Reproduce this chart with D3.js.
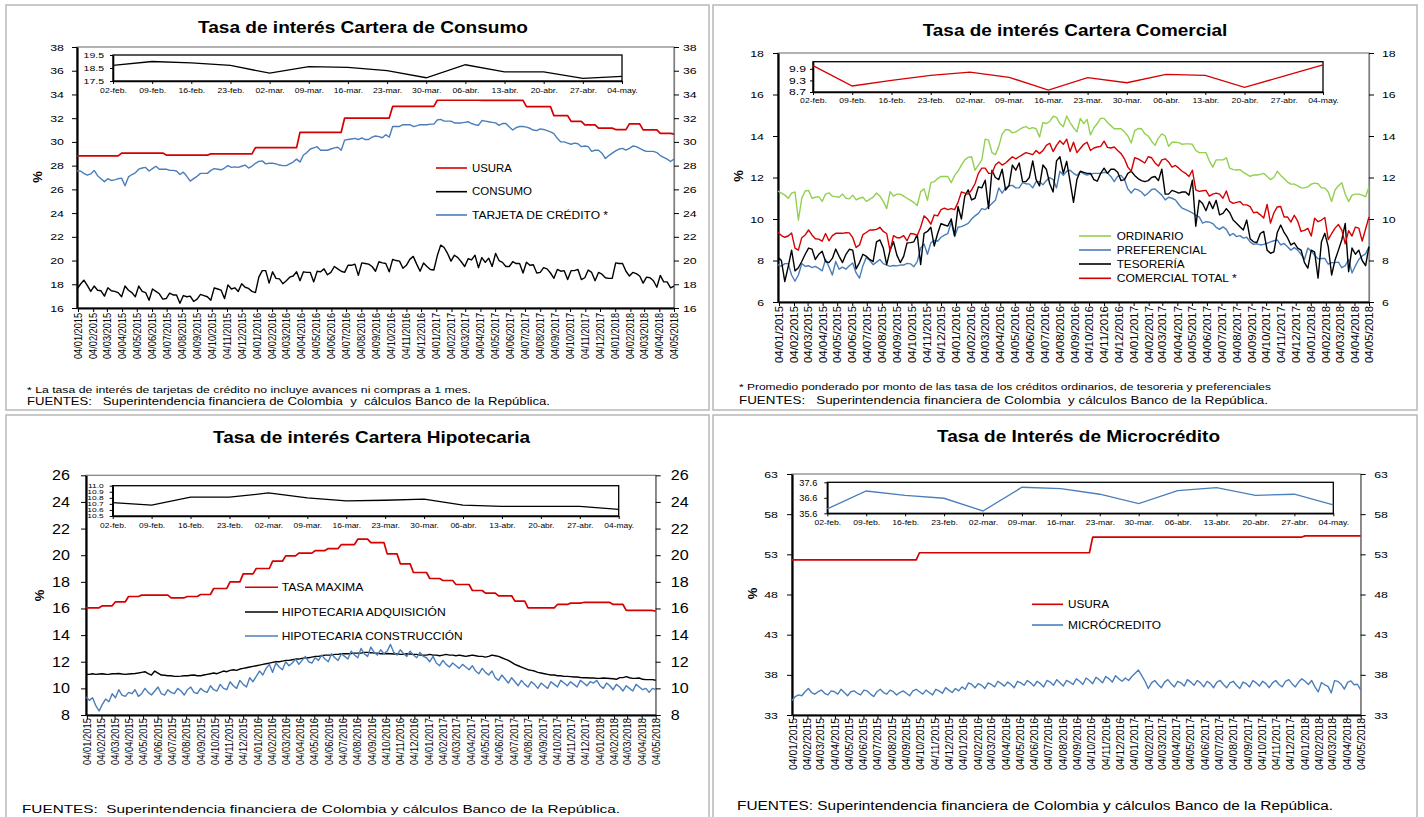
<!DOCTYPE html>
<html>
<head>
<meta charset="utf-8">
<script src="https://cdn.jsdelivr.net/npm/d3@7"></script>
<style>
  body { margin: 0; background: #fff; }
  svg text { font-family: Arial, "Liberation Sans", sans-serif; white-space: pre; }
</style>
</head>
<body>
<svg id="vis" width="1424" height="817"></svg>
<script>
// ---- data: weekly series, 02/01/2015 .. 04/05/2018 (175 weeks) ----
var consumo = [
  17.6,18.0,18.35,17.9,17.4,17.85,17.5,17.45,17.0,17.7,17.45,17.4,17.3,16.95,17.85,17.5,17.3,16.95,17.85,17.4,17.3,16.65,17.6,17.4,17.2,16.75,
  16.8,17.25,17.1,17.1,16.4,17.05,16.95,17.0,16.55,16.75,17.15,17.05,16.95,16.65,17.7,17.6,17.5,16.8,17.95,17.6,17.7,17.4,18.05,17.75,17.65,17.4,
  17.3,18.6,19.15,19.15,18.1,19.05,18.5,18.45,18.05,18.3,18.6,18.7,19.05,18.3,19.05,19.0,19.0,18.2,19.1,19.05,19.3,18.8,19.0,19.5,19.3,19.1,
  19.0,19.6,19.6,19.7,18.75,19.8,19.75,19.7,19.5,19.1,19.9,19.8,19.75,19.05,20.1,20.0,19.95,19.35,19.6,20.1,20.35,19.7,19.1,19.8,19.5,19.25,
  19.2,20.4,21.3,21.1,20.6,19.95,20.45,20.25,19.9,19.5,20.15,20.05,20.45,19.4,20.25,19.85,20.2,19.5,20.6,20.0,19.85,19.5,19.5,19.9,19.75,19.75,
  18.95,19.85,19.6,19.65,18.95,19.0,19.4,19.3,18.95,18.5,19.25,19.1,19.15,18.4,19.15,19.15,19.25,18.4,18.55,19.2,19.0,18.3,19.0,18.85,18.55,18.5,
  18.5,19.8,19.75,19.75,19.1,18.7,19.0,18.9,18.7,18.1,18.6,18.55,18.3,17.75,18.75,18.2,18.2,17.7,17.85
];
var tarjeta = [
  27.55,27.55,27.35,27.2,27.3,27.6,27.15,26.9,26.65,26.9,26.75,26.8,26.9,26.95,26.3,27.05,27.25,27.4,27.7,27.8,27.85,27.55,27.75,27.95,27.7,27.7,
  27.7,27.6,27.6,27.55,27.25,27.45,27.1,26.7,26.9,27.1,27.35,27.35,27.35,27.6,27.75,27.7,27.65,27.8,28.0,27.85,27.9,27.85,27.95,28.05,27.8,27.95,
  28.2,28.35,28.4,28.15,28.2,28.2,28.15,28.05,28.0,28.0,28.15,28.3,28.55,28.3,28.9,29.1,29.4,29.5,29.6,29.3,29.3,29.3,29.4,29.5,29.55,29.3,
  30.15,30.2,30.25,30.3,30.2,30.35,30.2,30.2,30.4,30.5,30.45,30.35,30.6,30.4,31.3,31.3,31.3,31.45,31.45,31.45,31.3,31.35,31.45,31.45,31.45,31.5,
  31.5,31.85,31.9,31.75,31.75,31.75,31.6,31.6,31.6,31.65,31.7,31.55,31.45,31.4,31.8,31.75,31.7,31.65,31.6,31.4,31.55,31.55,31.25,31.0,31.2,31.3,
  31.3,31.25,31.15,31.0,30.95,31.1,31.05,30.95,30.85,30.7,30.3,30.0,30.0,29.9,29.8,29.9,29.85,29.6,29.65,29.6,29.2,29.3,29.3,29.05,28.6,28.85,
  29.05,29.25,29.4,29.45,29.3,29.45,29.65,29.6,29.45,29.3,29.2,29.2,29.2,29.1,28.85,28.7,28.55,28.35,28.55
];
var ordinario = [
  11.35,11.25,11.15,11.0,11.25,11.3,9.95,11.0,11.35,11.38,11.0,11.05,11.08,10.85,11.2,11.26,11.1,11.08,11.05,11.2,11.0,10.97,11.15,10.92,11.0,11.05,
  10.85,10.95,11.05,11.25,11.1,10.85,10.5,11.32,11.1,11.2,11.2,11.1,11.0,10.9,10.8,10.65,11.32,11.45,10.9,11.75,11.8,11.95,12.05,12.05,12.05,11.75,
  12.1,12.3,12.6,12.85,12.97,13.0,12.35,12.6,12.85,13.85,13.8,13.2,13.1,13.5,14.1,14.3,14.3,14.15,14.2,14.3,14.4,14.45,14.35,14.4,14.35,13.95,
  14.65,14.6,14.7,14.95,14.9,14.6,14.45,14.96,14.65,14.4,14.2,14.85,14.6,14.8,14.05,14.4,14.6,14.85,14.85,14.65,14.5,14.35,14.35,14.35,14.2,14.0,
  13.66,14.25,14.36,14.35,14.1,14.0,13.75,13.55,13.9,14.1,14.0,13.5,13.7,13.7,13.68,13.6,13.62,13.62,13.6,13.3,13.2,13.2,13.2,12.8,12.5,12.85,
  12.85,12.85,12.95,12.45,12.38,12.36,12.38,12.25,12.15,12.05,12.12,12.12,12.15,12.2,12.05,11.9,12.0,12.3,12.1,11.95,11.78,11.68,11.68,11.6,11.5,11.5,
  11.55,11.68,11.73,11.7,11.5,11.5,11.3,10.84,11.4,11.6,11.75,11.2,10.84,11.15,11.2,11.2,11.15,11.07,11.55
];
var preferencial = [
  7.8,7.72,7.85,7.85,7.3,7.0,7.3,7.85,7.72,7.75,7.66,7.72,7.62,7.5,8.05,7.7,7.3,7.95,7.58,7.68,7.58,7.75,7.88,7.4,7.15,7.75,
  8.15,8.0,7.8,7.92,8.05,7.85,7.78,7.72,7.76,7.74,7.78,7.78,7.86,7.84,7.7,7.95,8.6,8.8,8.3,8.85,8.97,8.93,9.12,9.22,9.3,9.85,
  9.15,9.6,9.63,9.7,9.79,10.0,10.15,10.27,10.5,10.45,10.6,10.75,10.9,11.5,11.25,11.5,11.6,11.62,11.5,11.5,11.75,11.7,11.68,11.5,11.8,11.8,
  11.65,11.85,12.0,11.9,11.5,12.3,12.1,12.3,12.35,12.2,12.1,12.28,12.18,12.12,12.17,12.2,12.2,12.2,12.25,12.22,12.05,11.8,12.05,12.1,11.9,11.45,
  11.25,11.45,11.4,11.3,11.12,11.25,11.42,11.45,11.3,11.15,10.92,11.05,11.0,10.92,10.7,10.52,10.45,10.38,10.3,10.17,10.1,9.8,9.87,9.85,9.78,9.6,
  9.5,9.62,9.5,9.2,9.3,9.15,9.2,9.08,9.12,8.9,8.78,8.8,8.75,8.78,8.83,8.9,8.95,8.99,8.75,8.82,8.66,8.5,8.62,8.5,8.3,8.05,
  8.6,8.45,8.25,8.08,8.1,8.1,7.82,7.9,7.9,7.92,7.65,7.75,8.05,7.4,7.75,8.05,8.22,8.32,8.67
];
var tesoreria = [
  8.15,8.0,6.98,7.7,8.5,7.5,7.65,7.95,8.3,8.6,8.55,8.05,8.3,8.45,7.95,7.9,8.1,8.55,8.2,7.9,8.3,8.54,8.5,7.6,7.9,8.3,
  8.2,8.05,7.95,8.9,8.99,8.6,7.8,8.5,8.91,8.26,7.9,8.2,8.85,8.86,8.9,9.25,7.8,9.31,9.4,9.6,8.7,9.3,9.78,9.71,9.66,10.0,
  9.2,10.6,10.0,11.1,11.4,10.92,11.0,11.55,11.5,11.87,10.5,12.35,12.0,11.9,12.4,11.4,11.6,12.6,12.35,12.7,11.8,11.8,12.0,12.8,11.9,11.6,
  12.6,12.4,11.7,11.3,12.8,13.0,12.2,12.78,11.8,10.8,11.9,12.3,12.25,12.2,12.2,11.9,11.82,12.2,12.45,12.2,12.4,12.4,12.25,11.85,11.9,12.2,
  12.3,12.1,11.95,11.85,11.8,11.85,12.0,12.05,11.85,12.4,11.2,11.2,11.38,11.32,11.25,11.3,11.3,11.15,11.87,9.65,10.9,10.75,10.4,10.84,10.5,10.9,
  10.2,10.27,10.5,10.3,9.95,9.8,9.63,9.47,9.95,9.05,8.9,8.87,9.3,9.4,8.5,8.35,8.42,9.35,9.71,9.35,9.1,8.75,8.85,8.6,8.5,7.9,
  7.63,8.5,8.4,7.15,8.9,9.31,8.67,7.3,8.02,8.5,9.0,9.79,7.46,8.6,8.3,8.5,8.0,7.75,8.67
];
var comercialTotal = [
  9.35,9.2,9.12,9.18,9.33,8.6,8.5,9.1,9.23,9.47,9.23,9.05,9.03,8.93,9.3,8.95,9.2,9.31,9.31,9.31,9.34,9.33,9.1,8.63,8.75,9.25,
  9.35,9.47,9.47,9.5,9.6,9.4,9.3,8.46,9.2,9.1,9.1,9.2,8.95,9.3,9.28,9.2,9.6,10.15,10.0,9.75,10.2,10.15,10.45,10.52,10.45,10.5,
  10.45,10.8,11.3,11.25,11.2,11.4,11.7,12.2,12.45,12.45,12.2,12.2,12.6,12.75,12.6,12.7,12.85,13.0,12.9,13.0,13.1,13.2,13.15,13.1,13.3,13.15,
  13.3,13.55,13.65,13.25,13.55,13.77,13.6,13.85,13.25,13.7,13.2,13.4,13.6,13.7,13.3,13.42,13.47,13.5,13.75,13.45,13.42,13.47,13.3,13.15,12.9,12.5,
  12.3,12.95,12.9,12.8,12.7,13.0,12.95,12.7,12.55,12.85,12.9,12.75,12.5,12.58,12.45,12.3,12.2,12.05,12.35,11.4,11.33,11.36,11.38,11.1,11.2,11.25,
  11.2,11.0,11.35,10.85,10.75,10.8,10.84,10.68,10.68,10.6,10.3,10.33,10.2,10.05,10.7,9.8,10.3,10.58,10.6,10.1,10.1,9.85,10.18,9.9,9.4,9.45,
  9.55,9.18,10.04,9.87,9.95,10.07,9.01,9.3,9.56,9.73,9.46,8.8,9.44,9.18,9.61,9.56,8.94,9.52,10.1
];
var hipAdquisicion = [
  11.05,11.05,11.1,11.05,11.08,11.1,11.06,11.05,11.1,11.1,11.12,11.08,11.05,11.08,11.1,11.12,11.15,11.2,11.25,11.1,11.0,11.3,11.15,11.0,10.98,10.95,
  10.95,10.9,10.9,10.92,10.95,10.95,10.98,11.0,10.95,10.95,11.0,11.05,11.1,11.15,11.1,11.2,11.3,11.25,11.35,11.4,11.35,11.45,11.5,11.55,11.6,11.65,
  11.7,11.75,11.8,11.85,11.9,11.95,12.0,12.0,12.05,12.1,12.1,12.15,12.2,12.2,12.25,12.3,12.3,12.35,12.4,12.4,12.45,12.5,12.5,12.5,12.55,12.55,
  12.6,12.6,12.6,12.62,12.65,12.65,12.65,12.7,12.7,12.68,12.65,12.65,12.6,12.6,12.62,12.6,12.58,12.6,12.55,12.55,12.6,12.58,12.55,12.55,12.5,12.5,
  12.5,12.55,12.5,12.5,12.45,12.5,12.55,12.5,12.5,12.45,12.5,12.45,12.4,12.45,12.5,12.45,12.4,12.4,12.35,12.4,12.5,12.45,12.4,12.3,12.2,12.1,
  11.95,11.8,11.7,11.6,11.5,11.4,11.35,11.3,11.2,11.15,11.1,11.05,11.0,11.0,10.95,10.95,10.9,10.9,10.88,10.85,10.85,10.82,10.8,10.8,10.78,10.78,
  10.75,10.75,10.78,10.76,10.74,10.72,10.68,10.81,10.81,10.88,10.8,10.75,10.76,10.78,10.68,10.66,10.66,10.66,10.61
];
var hipConstruccion = [
  9.35,9.1,9.3,8.7,8.3,8.8,9.2,9.0,9.6,9.3,9.9,9.5,9.4,9.7,9.6,9.9,9.4,9.6,10.0,9.7,9.5,9.8,10.1,9.6,9.5,9.9,
  9.7,9.6,10.0,9.8,9.5,9.9,10.1,9.7,9.6,10.0,9.8,9.7,10.2,9.9,9.8,10.3,10.0,9.9,10.5,10.2,10.0,10.6,10.3,10.1,10.8,10.5,
  10.9,11.3,11.0,11.5,11.8,11.2,11.9,11.6,11.4,12.0,11.7,11.9,12.2,11.8,12.1,12.4,12.0,11.9,12.3,12.1,12.5,12.2,12.0,12.6,12.3,12.1,
  12.6,12.4,12.2,12.8,12.5,12.3,13.0,12.6,12.4,13.1,12.7,12.5,12.9,12.6,12.8,13.3,12.7,12.5,12.9,12.6,12.4,12.8,12.5,12.3,12.7,12.4,
  12.3,12.0,12.4,11.9,11.7,12.1,11.8,11.6,11.9,11.7,11.5,11.8,11.6,11.4,11.7,11.3,11.1,11.5,11.2,11.0,11.3,10.8,10.6,11.0,10.7,10.4,
  10.8,10.5,10.2,10.6,10.3,10.1,10.5,10.3,10.0,10.4,10.2,10.0,10.5,10.3,10.1,10.6,10.4,10.2,10.5,10.3,10.1,10.6,10.4,10.2,10.5,10.4,
  10.6,10.2,10.0,10.4,10.2,9.9,10.3,10.1,9.8,10.2,10.0,9.8,10.3,10.1,9.9,10.0,9.7,10.0,9.9
];
var microcredito = [
  34.8,35.3,35.5,35.4,35.9,36.3,35.8,35.6,35.9,36.1,35.7,35.5,36.0,35.9,35.6,36.2,35.8,35.4,35.9,36.0,35.7,35.5,36.1,36.0,35.6,35.3,
  35.9,36.2,35.8,35.6,36.1,35.9,35.5,35.8,36.0,35.7,35.4,36.0,36.2,35.9,35.6,36.1,35.8,35.5,36.2,36.0,35.7,36.4,36.1,35.8,36.3,36.0,
  36.5,36.2,37.0,36.8,36.4,36.9,36.7,36.3,37.0,36.8,36.5,37.2,36.9,36.6,37.1,36.8,36.4,37.2,37.0,36.7,37.3,37.0,36.6,37.2,36.9,36.5,
  37.3,37.1,36.7,37.4,37.0,36.6,37.3,37.1,36.8,37.5,37.2,36.8,37.6,37.3,36.9,37.7,37.4,37.0,37.8,37.5,37.1,37.9,37.5,37.2,37.6,37.3,
  37.8,38.2,38.6,37.9,37.2,36.3,37.0,37.3,36.8,36.4,37.1,37.4,36.9,36.5,37.2,37.0,36.6,37.4,37.1,36.7,37.3,37.0,36.5,37.2,36.9,36.4,
  37.1,37.3,36.8,36.4,37.0,37.2,36.7,36.3,37.1,36.9,36.5,37.3,37.0,36.6,37.2,36.9,36.4,37.0,37.3,36.8,36.5,37.2,37.4,36.9,36.5,37.1,
  37.5,37.2,36.8,37.3,36.5,35.88,37.04,36.76,36.57,35.75,37.28,37.19,36.83,36.22,37.06,37.25,36.76,36.83,36.14
];
// ---- monthly caps, ene-2015 .. may-2018 (41 months) ----
var usuraConsumo = [
  28.82,28.82,28.82,29.06,29.06,29.06,28.89,28.89,28.89,28.99,28.99,28.99,
  29.52,29.52,29.52,30.81,30.81,30.81,32.01,32.01,32.01,32.99,32.99,32.99,
  33.51,33.51,33.51,33.50,33.50,33.50,32.97,32.97,32.22,31.73,31.44,31.16,
  31.04,31.52,31.02,30.72,30.66
];
var tasaMaxHipotecaria = [
  16.05,16.2,16.5,16.9,17.0,17.0,16.8,16.9,17.05,17.5,18.0,18.6,
  19.0,19.55,19.95,20.15,20.35,20.5,20.8,21.2,20.95,20.1,19.35,18.7,
  18.25,18.1,17.8,17.35,17.15,16.95,16.55,16.05,16.05,16.3,16.4,16.45,
  16.45,16.3,15.85,15.85,15.8
];
var usuraMicro = [
  52.3,52.3,52.3,52.3,52.3,52.3,52.3,52.3,52.3,53.2,53.2,53.2,
  53.2,53.2,53.2,53.2,53.2,53.2,53.2,53.2,53.2,55.15,55.15,55.15,
  55.15,55.15,55.15,55.15,55.15,55.15,55.15,55.15,55.15,55.15,55.15,55.15,
  55.3,55.3,55.3,55.3,55.3
];
var insetDates = ["02-feb.","09-feb.","16-feb.","23-feb.","02-mar.","09-mar.","16-mar.","23-mar.","30-mar.","06-abr.","13-abr.","20-abr.","27-abr.","04-may."];

var RED = "#d60000", BLUE = "#4a7ebb", GREEN = "#92d050", BLACK = "#000";

var start = new Date(2015, 0, 2), end = new Date(2018, 4, 4);
var weeks = d3.range(consumo.length).map(function (i) { return d3.timeDay.offset(start, 7 * i); });
var monthTicks = d3.range(41).map(function (i) { return new Date(2015, i, 4); });
var fmtDate = d3.timeFormat("%d/%m/%Y");

function byMonth(vals) {
  return weeks.map(function (d) { return vals[(d.getFullYear() - 2015) * 12 + d.getMonth()]; });
}

var svg = d3.select("#vis");

function stretch(sel, sx) {
  sel.each(function () {
    var w = this.getComputedTextLength();
    d3.select(this).attr("textLength", w * sx).attr("lengthAdjust", "spacingAndGlyphs");
  });
}
function fit(sel, len) {
  sel.attr("textLength", len).attr("lengthAdjust", "spacingAndGlyphs");
}
function styleAxis(g, size) {
  g.attr("font-family", null).attr("font-size", null);
  g.selectAll("text").style("font-size", size + "px").attr("fill", "#000");
  g.selectAll(".tick line").attr("stroke", "#000");
}

function drawPanel(c) {
  var g = svg.append("g");
  var p = c.plot;

  g.append("rect")
    .attr("x", c.box[0]).attr("y", c.box[1])
    .attr("width", c.box[2] - c.box[0]).attr("height", c.box[3] - c.box[1])
    .attr("fill", "none").attr("stroke", "#b8b8b8").attr("stroke-width", 1.5);

  g.append("text")
    .attr("x", c.title.x).attr("y", c.title.y)
    .style("font-weight", "bold").style("font-size", c.title.size + "px")
    .text(c.title.text).call(fit, c.title.w);

  var x = d3.scaleTime().domain([start, end]).range([p.l, p.r]);
  var y = d3.scaleLinear().domain(c.yDomain).range([p.b, p.t]);

  g.append("rect")
    .attr("x", p.l).attr("y", p.t).attr("width", p.r - p.l).attr("height", p.b - p.t)
    .attr("fill", "none").attr("stroke", "#7f7f7f").attr("stroke-width", 1.2);

  var yl = g.append("g").attr("transform", "translate(" + p.l + ",0)")
    .call(d3.axisLeft(y).tickValues(c.yTicks).tickSize(5).tickSizeOuter(0).tickPadding(c.tick.padL));
  styleAxis(yl, c.tick.size);
  yl.select(".domain").attr("stroke", "#000").attr("stroke-width", 2.2);
  stretch(yl.selectAll("text"), c.tick.sx);

  var yr = g.append("g").attr("transform", "translate(" + p.r + ",0)")
    .call(d3.axisRight(y).tickValues(c.yTicks).tickSize(5).tickSizeOuter(0).tickPadding(c.tick.padR));
  styleAxis(yr, c.tick.size);
  yr.select(".domain").attr("stroke", "#7f7f7f").attr("stroke-width", 1.2);
  stretch(yr.selectAll("text"), c.tick.sx);

  var xa = g.append("g").attr("transform", "translate(0," + p.b + ")")
    .call(d3.axisBottom(x).tickValues(monthTicks).tickFormat(fmtDate).tickSize(4).tickSizeOuter(0));
  styleAxis(xa, c.date.size);
  xa.select(".domain").attr("stroke", "#000").attr("stroke-width", 2.2);
  xa.selectAll(".tick text")
    .attr("transform", "rotate(-90)")
    .attr("x", -c.date.pad).attr("y", 0).attr("dy", "0.35em")
    .style("text-anchor", "end")
    .call(fit, c.date.len);

  g.append("text")
    .attr("transform", "translate(" + c.pct.x + "," + c.pct.y + ") rotate(-90)")
    .attr("dy", "0.35em").style("text-anchor", "middle")
    .style("font-weight", "bold").style("font-size", "13px")
    .text("%");

  var line = d3.line()
    .x(function (d, i) { return x(weeks[i]); })
    .y(function (d) { return y(d); });

  c.series.forEach(function (s) {
    g.append("path").datum(s.values)
      .attr("d", line)
      .attr("fill", "none")
      .attr("stroke", s.color)
      .attr("stroke-width", s.w || 1.3)
      .attr("stroke-linejoin", "round");
  });

  // legend
  c.legend.items.forEach(function (it) {
    g.append("line")
      .attr("x1", c.legend.x1).attr("x2", c.legend.x2)
      .attr("y1", it.y).attr("y2", it.y)
      .attr("stroke", it.color).attr("stroke-width", 1.6);
    g.append("text")
      .attr("x", c.legend.tx).attr("y", it.y).attr("dy", "0.36em")
      .style("font-size", c.legend.size + "px")
      .text(it.name).call(fit, it.w);
  });

  // inset with the last 14 weeks
  var ins = c.inset;
  var xi = d3.scalePoint().domain(insetDates).range([ins.l, ins.r]);
  var yi = d3.scaleLinear().domain(ins.domain).range([ins.b, ins.t]);
  g.append("rect")
    .attr("x", ins.l).attr("y", ins.t).attr("width", ins.r - ins.l).attr("height", ins.b - ins.t)
    .attr("fill", "#fff").attr("stroke", "#000").attr("stroke-width", 1.3);
  var il = g.append("g").attr("transform", "translate(" + ins.l + ",0)")
    .call(d3.axisLeft(yi).tickValues(ins.ticks).tickFormat(d3.format(".1f")).tickSize(3).tickSizeOuter(0).tickPadding(ins.yPad));
  styleAxis(il, ins.ySize);
  il.select(".domain").attr("stroke", "#000").attr("stroke-width", 1.6);
  stretch(il.selectAll("text"), ins.ySx);
  var ib = g.append("g").attr("transform", "translate(0," + ins.b + ")")
    .call(d3.axisBottom(xi).tickSize(3).tickSizeOuter(0).tickPadding(ins.xPad));
  styleAxis(ib, ins.xSize);
  ib.select(".domain").attr("stroke", "#000").attr("stroke-width", 1.6);
  stretch(ib.selectAll("text"), ins.xSx);
  var last = ins.values.slice(-insetDates.length);
  g.append("path").datum(last)
    .attr("d", d3.line()
      .x(function (d, i) { return xi(insetDates[i]); })
      .y(function (d) { return yi(d); }))
    .attr("fill", "none").attr("stroke", ins.color).attr("stroke-width", 1.3);

  c.notes.forEach(function (n) {
    g.append("text")
      .attr("x", n.x).attr("y", n.y)
      .style("font-size", n.size + "px")
      .text(n.text).call(fit, n.w);
  });
}

drawPanel({
  box: [6, 5, 709, 410],
  title: { text: "Tasa de interés Cartera de Consumo", x: 198, y: 33, size: 17, w: 330 },
  plot: { l: 77, r: 674, t: 47, b: 308 },
  yDomain: [16, 38], yTicks: d3.range(16, 39, 2),
  tick: { size: 9.5, sx: 1.3, padL: 8, padR: 4 },
  date: { size: 10, len: 46, pad: 5 },
  pct: { x: 37, y: 177 },
  series: [
    { values: tarjeta, color: BLUE, w: 1.4 },
    { values: byMonth(usuraConsumo), color: RED, w: 1.7 },
    { values: consumo, color: BLACK, w: 1.4 }
  ],
  legend: { x1: 436, x2: 467, tx: 472, size: 10, items: [
    { name: "USURA", color: RED, y: 168, w: 40 },
    { name: "CONSUMO", color: BLACK, y: 191.7, w: 60 },
    { name: "TARJETA DE CRÉDITO *", color: BLUE, y: 215, w: 136 }
  ] },
  inset: { l: 113, r: 622, t: 55, b: 81, domain: [17.5, 19.5], ticks: [17.5, 18.5, 19.5],
    values: consumo, color: BLACK, ySize: 7.5, ySx: 1.4, yPad: 6, xSize: 7.5, xSx: 1.15, xPad: 4 },
  notes: [
    { text: "* La tasa de interés de tarjetas de crédito no incluye avances ni compras a 1 mes.", x: 27, y: 393, size: 9, w: 444 },
    { text: "FUENTES:   Superintendencia financiera de Colombia  y  cálculos Banco de la República.", x: 27, y: 405, size: 11.5, w: 523 }
  ]
});

drawPanel({
  box: [713, 5, 1417, 410],
  title: { text: "Tasa de interés Cartera Comercial", x: 922.7, y: 36, size: 16, w: 304.6 },
  plot: { l: 778, r: 1369, t: 53, b: 302 },
  yDomain: [6, 18], yTicks: d3.range(6, 19, 2),
  tick: { size: 9.5, sx: 1.3, padL: 9, padR: 8 },
  date: { size: 10.5, len: 57, pad: 4 },
  pct: { x: 738.7, y: 176 },
  series: [
    { values: ordinario, color: GREEN, w: 1.4 },
    { values: preferencial, color: BLUE, w: 1.4 },
    { values: tesoreria, color: BLACK, w: 1.4 },
    { values: comercialTotal, color: RED, w: 1.4 }
  ],
  legend: { x1: 1079, x2: 1111, tx: 1116.7, size: 10, items: [
    { name: "ORDINARIO", color: GREEN, y: 236, w: 66.7 },
    { name: "PREFERENCIAL", color: BLUE, y: 250, w: 90 },
    { name: "TESORERÍA", color: BLACK, y: 264, w: 68 },
    { name: "COMERCIAL TOTAL *", color: RED, y: 278.3, w: 120 }
  ] },
  inset: { l: 813, r: 1323, t: 61.7, b: 92, domain: [8.7, 10.27], ticks: [8.7, 9.3, 9.9],
    values: comercialTotal, color: RED, ySize: 9, ySx: 1.35, yPad: 4, xSize: 7.5, xSx: 1.15, xPad: 2.5 },
  notes: [
    { text: "* Promedio ponderado por monto de las tasa de los créditos ordinarios, de tesoreria y preferenciales", x: 739, y: 390, size: 9.5, w: 532 },
    { text: "FUENTES:   Superintendencia financiera de Colombia  y cálculos Banco de la República.", x: 739, y: 404, size: 11.5, w: 529 }
  ]
});

drawPanel({
  box: [6, 415, 709, 830],
  title: { text: "Tasa de interés Cartera Hipotecaria", x: 213, y: 443, size: 17, w: 317 },
  plot: { l: 86, r: 655.7, t: 475.3, b: 715 },
  yDomain: [8, 26], yTicks: d3.range(8, 27, 2),
  tick: { size: 14, sx: 1.15, padL: 11, padR: 10 },
  date: { size: 10, len: 47, pad: 3 },
  pct: { x: 39, y: 595.5 },
  series: [
    { values: byMonth(tasaMaxHipotecaria), color: RED, w: 1.7 },
    { values: hipAdquisicion, color: BLACK, w: 1.4 },
    { values: hipConstruccion, color: BLUE, w: 1.4 }
  ],
  legend: { x1: 245, x2: 278, tx: 281.7, size: 11.5, items: [
    { name: "TASA MAXIMA", color: RED, y: 587.3, w: 81.6 },
    { name: "HIPOTECARIA ADQUISICIÓN", color: BLACK, y: 612, w: 164 },
    { name: "HIPOTECARIA CONSTRUCCIÓN", color: BLUE, y: 636, w: 181 }
  ] },
  inset: { l: 112.7, r: 618.7, t: 485.7, b: 516, domain: [10.5, 11.0], ticks: [10.5, 10.6, 10.7, 10.8, 10.9, 11.0],
    values: hipAdquisicion, color: BLACK, ySize: 6, ySx: 1.4, yPad: 6, xSize: 7, xSx: 1.2, xPad: 4.5 },
  notes: [
    { text: "FUENTES:  Superintendencia financiera de Colombia y cálculos Banco de la República.", x: 22, y: 812.5, size: 11.5, w: 598 }
  ]
});

drawPanel({
  box: [713, 415, 1417, 830],
  title: { text: "Tasa de Interés de Microcrédito", x: 937, y: 442, size: 17, w: 283 },
  plot: { l: 792, r: 1360.7, t: 474, b: 715 },
  yDomain: [33, 63], yTicks: d3.range(33, 64, 5),
  tick: { size: 9.5, sx: 1.3, padL: 9, padR: 8.5 },
  date: { size: 10, len: 52, pad: 3 },
  pct: { x: 752, y: 593.5 },
  series: [
    { values: byMonth(usuraMicro), color: RED, w: 1.7 },
    { values: microcredito, color: BLUE, w: 1.4 }
  ],
  legend: { x1: 1032, x2: 1063, tx: 1068, size: 10, items: [
    { name: "USURA", color: RED, y: 604.3, w: 41 },
    { name: "MICRÓCREDITO", color: BLUE, y: 625, w: 93 }
  ] },
  inset: { l: 827.3, r: 1333.3, t: 482.3, b: 513.3, domain: [35.6, 37.6], ticks: [35.6, 36.6, 37.6],
    values: microcredito, color: BLUE, ySize: 8.4, ySx: 1.1, yPad: 7, xSize: 7.5, xSx: 1.15, xPad: 3.3 },
  notes: [
    { text: "FUENTES: Superintendencia financiera de Colombia y cálculos Banco de la República.", x: 737, y: 810, size: 12, w: 596 }
  ]
});
</script>
</body>
</html>
